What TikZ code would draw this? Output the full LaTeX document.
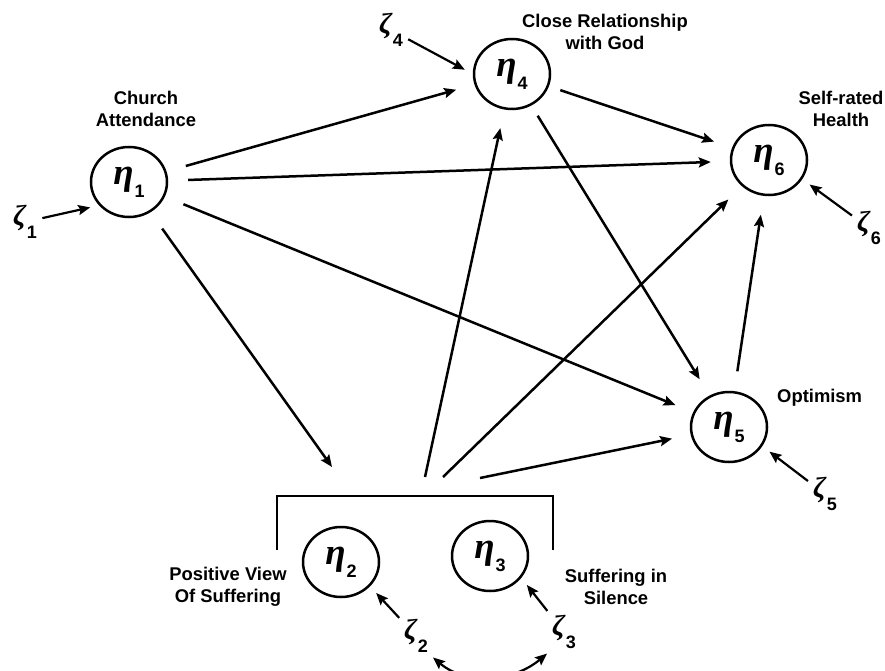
\documentclass[tikz,border=0pt]{standalone}
\usepackage{fontspec}
\setmainfont{Liberation Sans}
\newfontfamily\grkfont{Liberation Serif}
\usetikzlibrary{shapes.geometric,arrows.meta,positioning}

\newcommand{\etasub}[1]{{\grkfont\bfseries\itshape\fontsize{37}{37}\selectfont η}\kern1pt\raisebox{-13pt}{\bfseries\fontsize{18}{18}\selectfont #1}}
\newcommand{\zetasub}[1]{{\grkfont\bfseries\itshape\fontsize{29}{29}\selectfont ζ}\kern1pt\raisebox{-13pt}{\bfseries\fontsize{18}{18}\selectfont #1}}

\tikzset{
  latent/.style={draw, ellipse, line width=2.5pt, minimum width=76pt, minimum height=70pt, inner sep=0pt},
  caption/.style={font=\bfseries\fontsize{18.4}{22}\selectfont, align=center, inner sep=0pt},
  effect/.style={-{Stealth[length=12pt,width=10pt,inset=2pt]}, line width=2.5pt, shorten <=20pt, shorten >=19pt},
  disturb/.style={-{Stealth[length=12pt,width=10pt,inset=2pt]}, line width=2.2pt, shorten <=2pt, shorten >=9pt},
}

\begin{document}
\begin{tikzpicture}[x=1pt, y=-1pt]
\useasboundingbox (0,0) rectangle (885,671);

% latent variables
\node[latent] (e1) at (129,182) {\etasub{1}};
\node[latent] (e4) at (512,74) {\etasub{4}};
\node[latent] (e6) at (769,160) {\etasub{6}};
\node[latent] (e5) at (729,427) {\etasub{5}};
\node[latent] (e2) at (341,562) {\etasub{2}};
\node[latent] (e3) at (490,556) {\etasub{3}};

% labels
\node[caption] (l1) at (146,109) {Church\\Attendance};
\node[caption] (l4) at (605,32) {Close Relationship\\with God};
\node[caption] (l6) at (841,109) {Self-rated\\Health};
\node[caption, anchor=base west] (l5) at (777,402) {Optimism};
\node[caption] (l2) at (228,587) {Positive View\\Of Suffering};
\node[caption] (l3) at (616,587) {Suffering in\\Silence};

% disturbances
\node (z1) at (25,222) {\zetasub{1}};
\node (z4) at (391,30) {\zetasub{4}};
\node (z6) at (869,228) {\zetasub{6}};
\node (z5) at (825,494) {\zetasub{5}};
\node (z2) at (416,636) {\zetasub{2}};
\node (z3) at (564,632) {\zetasub{3}};

% bracket round eta2 and eta3
\coordinate (bl) at (277,550);
\coordinate (br) at (553,550);
\draw[line width=2.5pt] (bl) -- ++(0,-54) -| (br);
\coordinate (g1) at (332,467);
\coordinate (s1) at (425,477);
\coordinate (s2) at (443,477);
\coordinate (s3) at (480,478);

% structural paths
\draw[effect] (e1) -- (e4);
\draw[effect] (e1) -- (e6);
\draw[effect] (e1) -- (e5);
\draw[effect, shorten >=0pt] (e1) -- (g1);
\draw[effect, shorten <=12pt] (e4) -- (e6);
\draw[effect, shorten <=12pt] (e4) -- (e5);
\draw[effect, shorten <=0pt] (s1) -- (e4);
\draw[effect, shorten <=0pt] (s2) -- (e6);
\draw[effect, shorten <=0pt] (s3) -- (e5);
\draw[effect] (e5) -- (e6);

% disturbance arrows
\draw[disturb] (z1) -- (e1.218);
\draw[disturb] (z4) -- (e4.180);
\draw[disturb] (z6) -- (e6.-30);
\draw[disturb] (z5) -- (e5.-30);
\draw[disturb] (z2) -- (e2.-40);
\draw[disturb] (z3) -- (e3.-35);
\draw[disturb, {Stealth[length=12pt,width=10pt,inset=2pt]}-{Stealth[length=12pt,width=10pt,inset=2pt]}, shorten >=2pt] (z2.south east) to[out=-40, in=-140] (z3.south west);
\end{tikzpicture}
\end{document}
